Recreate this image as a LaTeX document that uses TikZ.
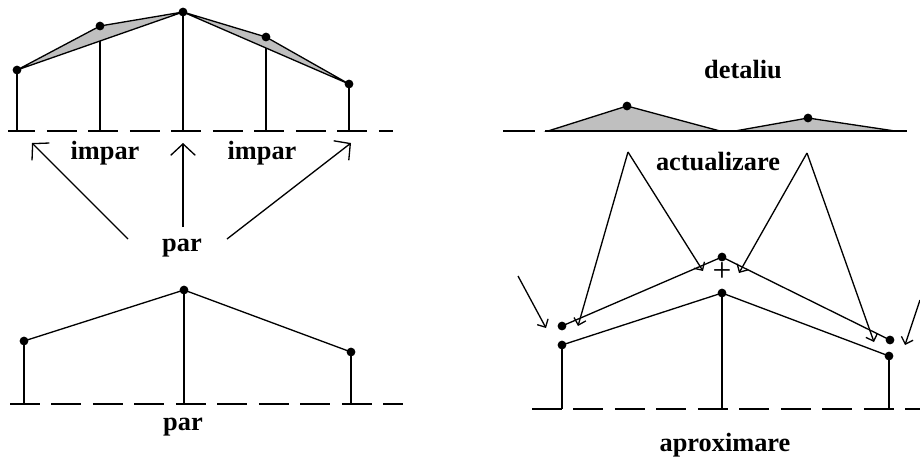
\documentclass[tikz,border=0pt]{standalone}
\usepackage{fontspec}
\setmainfont{Liberation Serif}
\usetikzlibrary{arrows.meta,calc}

\tikzset{
  axis/.style={line width=0.9pt,dash pattern=on 17.07pt off 6.54pt},
  stem/.style={line width=1.1pt},
  seg/.style={line width=0.75pt},
  wedge/.style={seg,fill=black!25},
  lbl/.style={font=\fontsize{15}{17}\selectfont\bfseries,inner sep=0pt},
  bigarrow/.style={seg,-{Straight Barb[length=6.5pt,width=14pt]}},
  smallarrow/.style={seg,-{Straight Barb[length=3.5pt,width=7pt]}},
}
\newcommand{\pdot}[1]{\fill (#1) circle (2.5pt);}

\begin{document}
\begin{tikzpicture}[x=0.02cm,y=-0.02cm]
\useasboundingbox (0,0) rectangle (920,457);

% top left: all samples
\coordinate (a0) at (17,70);
\coordinate (a1) at (100,26);
\coordinate (a2) at (183,12);
\coordinate (a3) at (266,37);
\coordinate (a4) at (349,84);
\coordinate (m1) at ($(a0)!0.5!(a2)$);
\coordinate (m3) at ($(a2)!0.5!(a4)$);
\coordinate (ba) at (8,131);
\coordinate (ea) at (393,131);

\draw[axis,dash phase=1.42pt] (ba) -- (ea);
\filldraw[wedge] (a0) -- (a1) -- (a2) -- cycle;
\filldraw[wedge] (a2) -- (a3) -- (a4) -- cycle;
\foreach \p in {a0,a2,a4} \draw[stem] (\p) -- (\p |- ba);
\draw[stem] (m1) -- (m1 |- ba);
\draw[stem] (m3) -- (m3 |- ba);
\foreach \p in {a0,a1,a2,a3,a4} {\pdot{\p}}

\node[lbl] (imp1) at (105,153) {impar};
\node[lbl] (imp2) at (262,153) {impar};
\node[lbl] (par1) at (182,248) {par};

\coordinate (t1) at (128,239);
\coordinate (t2) at (183,227);
\coordinate (t3) at (227,239);
\coordinate (h1) at (32,143);
\coordinate (h2) at (183,143);
\coordinate (h3) at (351,143);
\draw[bigarrow] (t1) -- (h1);
\draw[bigarrow] (t2) -- (h2);
\draw[bigarrow] (t3) -- (h3);

% bottom left: even samples
\coordinate (c0) at (24,341);
\coordinate (c1) at (184,290);
\coordinate (c2) at (351,352);
\coordinate (bc) at (10,404);
\coordinate (ec) at (403,404);

\draw[axis] (bc) -- (ec);
\draw[seg] (c0) -- (c1) -- (c2);
\foreach \p in {c0,c1,c2} {\draw[stem] (\p) -- (\p |- bc); \pdot{\p}}
\node[lbl] (par2) at (183,427) {par};

% right: detail
\node[lbl] (det) at (743,70) {detaliu};
\coordinate (d0) at (548,131);
\coordinate (d1) at (627,106);
\coordinate (d2) at (720,131);
\coordinate (d3) at (735,131);
\coordinate (d4) at (808,118);
\coordinate (d5) at (895,131);
\coordinate (g0) at (503,131);
\coordinate (g1) at (535,131);
\coordinate (g2) at (545,131);
\coordinate (g3) at (907,131);

\filldraw[wedge] (d0) -- (d1) -- (d2) -- cycle;
\filldraw[wedge] (d3) -- (d4) -- (d5) -- cycle;
\draw[line width=0.9pt] (g0) -- (g1);
\draw[line width=0.9pt] (g2) -- (g3);
\pdot{d1} \pdot{d4}

\node[lbl] (act) at (718,162) {actualizare};

% right: update and approximation
\coordinate (u0) at (562,326);
\coordinate (u1) at (722,257);
\coordinate (u2) at (890,340);
\coordinate (v0) at (562,345);
\coordinate (v1) at (722,293);
\coordinate (v2) at (889,356);
\coordinate (bv) at (532,409);
\coordinate (ev) at (920,409);

\draw[axis] (bv) -- (ev);
\draw[seg] (u0) -- (u1) -- (u2);
\draw[seg] (v0) -- (v1) -- (v2);
\foreach \p in {v0,v1,v2} \draw[stem] (\p) -- (\p |- bv);
\foreach \p in {u0,u1,u2,v0,v1,v2} {\pdot{\p}}
\node[font=\fontsize{19}{21}\selectfont,inner sep=0pt] (plus) at (722,272) {+};

\coordinate (k1) at (628,152);
\coordinate (k2) at (807,153);
\coordinate (f1) at (518,276);
\coordinate (f2) at (920,300);
\coordinate (e1) at (546,328);
\coordinate (e2) at (578,326);
\coordinate (e3) at (703,271);
\coordinate (e4) at (739,273);
\coordinate (e5) at (874,342);
\coordinate (e6) at (905,345);
\draw[smallarrow] (f1) -- (e1);
\draw[smallarrow] (k1) -- (e2);
\draw[smallarrow] (k1) -- (e3);
\draw[smallarrow] (k2) -- (e4);
\draw[smallarrow] (k2) -- (e5);
\draw[smallarrow] (f2) -- (e6);

\node[lbl] (apr) at (725,445) {aproximare};
\end{tikzpicture}
\end{document}
